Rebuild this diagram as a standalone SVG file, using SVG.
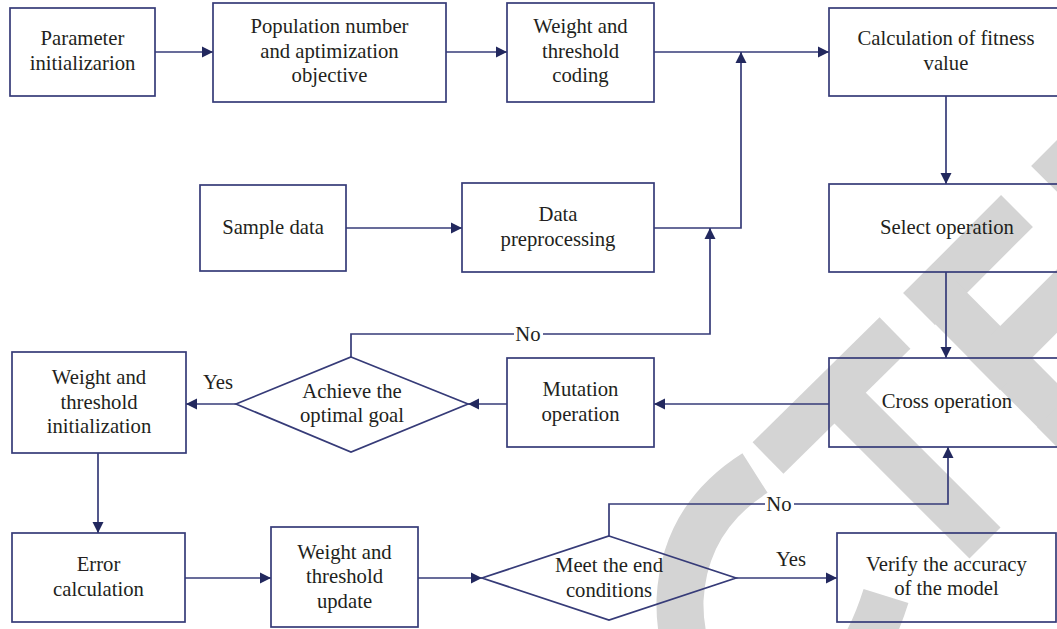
<svg xmlns="http://www.w3.org/2000/svg" width="1057" height="629" viewBox="0 0 1057 629">
<defs>
<style>
.box{fill:none;stroke:#363b78;stroke-width:1.7}
.ln{fill:none;stroke:#363b78;stroke-width:1.7}
.arr{marker-end:url(#ah)}
text{font-family:'Liberation Serif','DejaVu Serif',serif;font-size:20.7px;fill:#231f20;text-anchor:middle}
.wm{fill:none;stroke:#d4d4d4;stroke-linecap:butt}
</style>
<marker id="ah" markerUnits="userSpaceOnUse" markerWidth="12" markerHeight="12" refX="11" refY="6" orient="auto">
<path d="M0,0.5 L11,6 L0,11.5 z" fill="#22285e"/>
</marker>
</defs>
<rect width="1057" height="629" fill="#ffffff"/>
<g id="watermark">
<path class="wm" stroke-width="47" d="M755,473 Q684,518 680,600 Q678,702 778,708 Q852,704 886,596"/>
<line class="wm" stroke-width="44" x1="768" y1="458" x2="895" y2="333"/>
<line class="wm" stroke-width="44" x1="841" y1="399" x2="985" y2="543"/>
<line class="wm" stroke-width="45" x1="919" y1="309" x2="1017" y2="211"/>
<line class="wm" stroke-width="45" x1="920" y1="277" x2="1085" y2="443"/>
<line class="wm" stroke-width="45" x1="984" y1="374" x2="1079" y2="279"/>
<line class="wm" stroke-width="45" x1="1053" y1="443" x2="1151" y2="345"/>
<line class="wm" stroke-width="45" x1="1047" y1="150" x2="1213" y2="315"/>
</g>
<g id="connectors">
<line class="ln arr" x1="155" y1="52" x2="213" y2="52"/>
<line class="ln arr" x1="446" y1="52" x2="507" y2="52"/>
<line class="ln arr" x1="654" y1="52" x2="829" y2="52"/>
<path class="ln arr" d="M654,228 H741 V52"/>
<line class="ln arr" x1="346" y1="228" x2="462" y2="228"/>
<path class="ln" d="M351,357 V334 H514"/>
<path class="ln arr" d="M543,334 H710 V228"/>
<text x="528" y="341">No</text>
<line class="ln arr" x1="946" y1="96" x2="946" y2="184"/>
<line class="ln arr" x1="946" y1="272" x2="946" y2="358"/>
<line class="ln arr" x1="829" y1="404" x2="654" y2="404"/>
<line class="ln arr" x1="507" y1="404" x2="468" y2="404"/>
<line class="ln arr" x1="236" y1="404" x2="186" y2="404"/>
<text x="218" y="389">Yes</text>
<line class="ln arr" x1="98" y1="453" x2="98" y2="533"/>
<line class="ln arr" x1="185" y1="578" x2="271" y2="578"/>
<line class="ln arr" x1="418" y1="578" x2="482" y2="578"/>
<path class="ln" d="M609,536 V504 H765"/>
<path class="ln arr" d="M794,504 H948 V447"/>
<text x="779" y="511">No</text>
<line class="ln arr" x1="736" y1="578" x2="837" y2="578"/>
<text x="791" y="566">Yes</text>
</g>
<g id="n-param">
<rect class="box" x="10" y="8" width="145" height="88"/>
<text x="82.5" y="45">Parameter</text>
<text x="82.5" y="69.5">initializarion</text>
</g>
<g id="n-population">
<rect class="box" x="213" y="3" width="233" height="99"/>
<text x="329.5" y="33">Population number</text>
<text x="329.5" y="57.5">and aptimization</text>
<text x="329.5" y="82">objective</text>
</g>
<g id="n-coding">
<rect class="box" x="507" y="3" width="147" height="99"/>
<text x="580.5" y="33">Weight and</text>
<text x="580.5" y="57.5">threshold</text>
<text x="580.5" y="82">coding</text>
</g>
<g id="n-fitness">
<rect class="box" x="829" y="8" width="240" height="88"/>
<text x="946" y="45">Calculation of fitness</text>
<text x="946" y="69.5">value</text>
</g>
<g id="n-sample">
<rect class="box" x="200" y="185" width="146" height="86"/>
<text x="273" y="234">Sample data</text>
</g>
<g id="n-preprocess">
<rect class="box" x="462" y="183" width="192" height="89"/>
<text x="558" y="221">Data</text>
<text x="558" y="245.5">preprocessing</text>
</g>
<g id="n-select">
<rect class="box" x="829" y="184" width="240" height="88"/>
<text x="947" y="233.5">Select operation</text>
</g>
<g id="n-winit">
<rect class="box" x="12" y="352" width="174" height="101"/>
<text x="99" y="384">Weight and</text>
<text x="99" y="408.5">threshold</text>
<text x="99" y="433">initialization</text>
</g>
<g id="n-achieve">
<polygon class="box" points="351,357 468,404 351,452 236,404"/>
<text x="352" y="397.5">Achieve the</text>
<text x="352" y="422">optimal goal</text>
</g>
<g id="n-mutation">
<rect class="box" x="507" y="358" width="147" height="89"/>
<text x="580.5" y="396">Mutation</text>
<text x="580.5" y="420.5">operation</text>
</g>
<g id="n-cross">
<rect class="box" x="829" y="358" width="240" height="89"/>
<text x="947" y="408">Cross operation</text>
</g>
<g id="n-error">
<rect class="box" x="12" y="533" width="173" height="89"/>
<text x="98.5" y="571">Error</text>
<text x="98.5" y="595.5">calculation</text>
</g>
<g id="n-update">
<rect class="box" x="271" y="527" width="147" height="100"/>
<text x="344.5" y="558.5">Weight and</text>
<text x="344.5" y="583">threshold</text>
<text x="344.5" y="607.5">update</text>
</g>
<g id="n-meet">
<polygon class="box" points="609,536 736,578 609,620 482,578"/>
<text x="609" y="572">Meet the end</text>
<text x="609" y="596.5">conditions</text>
</g>
<g id="n-verify">
<rect class="box" x="837" y="533" width="219" height="89"/>
<text x="946.5" y="571">Verify the accuracy</text>
<text x="946.5" y="595">of the model</text>
</g>
</svg>
